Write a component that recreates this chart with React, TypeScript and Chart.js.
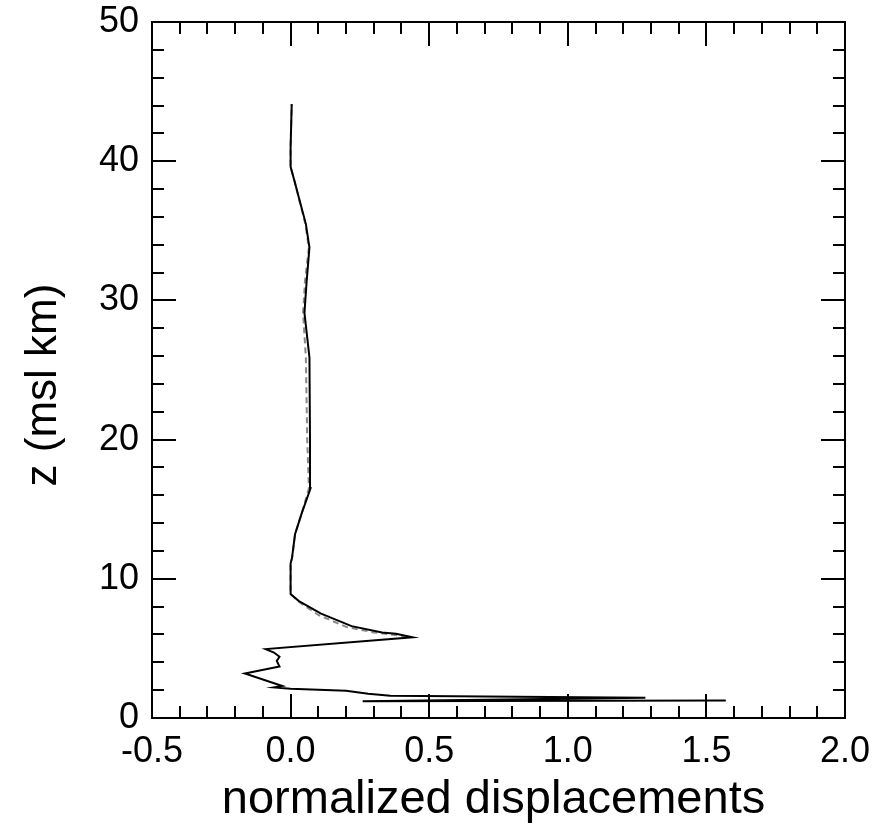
import React, { useEffect, useRef } from "react";
import { Chart, registerables } from "chart.js";

Chart.register(...registerables);

// Solid profile (black): normalized displacement vs altitude (km)
const solidX = [1.57, 0.26, 1.28, 0.36, 0.28, 0.2, 0.0, -0.06, -0.03, -0.165, -0.04, -0.05, -0.04, -0.06, -0.09, 0.44, 0.38, 0.33, 0.22, 0.11, 0.03, 0.0, 0.0, 0.005, 0.016, 0.04, 0.072, 0.07, 0.068, 0.05, 0.058, 0.068, 0.055, 0.035, 0.015, 0.0, 0.0, 0.004];
const solidZ = [1.25, 1.2, 1.45, 1.6, 1.75, 1.95, 2.1, 2.2, 2.3, 3.2, 3.7, 4.1, 4.4, 4.7, 4.95, 5.8, 6.05, 6.15, 6.6, 7.5, 8.4, 8.9, 11.1, 11.5, 13.2, 14.7, 16.5, 20.0, 25.9, 29.1, 31.4, 33.8, 35.5, 37.0, 38.5, 39.6, 41.0, 44.1];

// Dashed profile (grey)
const dashX = [0.42, 0.36, 0.3, 0.2, 0.1, 0.03, 0.0, 0.0, 0.006, 0.016, 0.04, 0.066, 0.06, 0.055, 0.045, 0.052, 0.066, 0.053, 0.034, 0.015, 0.0, 0.0, 0.004];
const dashZ = [5.85, 6.0, 6.15, 6.55, 7.4, 8.35, 8.9, 11.1, 11.5, 13.2, 14.7, 16.5, 20.0, 25.9, 29.1, 31.4, 33.8, 35.5, 37.0, 38.5, 39.6, 41.0, 44.1];

const xTicks = [-0.5, 0.0, 0.5, 1.0, 1.5, 2.0];
const yTicks = [0, 10, 20, 30, 40, 50];
const xTitle = "normalized displacements";
const yTitle = "z (msl km)";

const FONT = "'Liberation Sans', Arial, Helvetica, sans-serif";

const framePlugin = {
  id: "idlFrame",
  afterDraw(chart: any) {
    const { ctx, chartArea: a, scales } = chart;
    const xs = scales.x;
    const ys = scales.y;
    ctx.save();
    ctx.strokeStyle = "#000";
    ctx.lineWidth = 2;
    ctx.lineCap = "butt";
    ctx.strokeRect(a.left, a.top, a.right - a.left, a.bottom - a.top);
    const major = 24;
    const minor = 12;
    ctx.beginPath();
    for (let i = 0; i <= 25; i++) {
      const v = -0.5 + i * 0.1;
      const px = Math.round(xs.getPixelForValue(v));
      const len = i % 5 === 0 ? major : minor;
      ctx.moveTo(px, a.bottom);
      ctx.lineTo(px, a.bottom - len);
      ctx.moveTo(px, a.top);
      ctx.lineTo(px, a.top + len);
    }
    for (let i = 0; i <= 25; i++) {
      const v = i * 2;
      const py = Math.round(ys.getPixelForValue(v));
      const len = i % 5 === 0 ? major : minor;
      ctx.moveTo(a.left, py);
      ctx.lineTo(a.left + len, py);
      ctx.moveTo(a.right, py);
      ctx.lineTo(a.right - len, py);
    }
    ctx.stroke();

    ctx.fillStyle = "#000";
    ctx.font = `47px ${FONT}`;
    ctx.textAlign = "center";
    ctx.textBaseline = "middle";
    ctx.fillText(xTitle, (a.left + a.right) / 2 - 5, 800);
    ctx.save();
    ctx.translate(44, 385);
    ctx.rotate(-Math.PI / 2);
    ctx.font = `44px ${FONT}`;
    ctx.fillText(yTitle, 0, 0);
    ctx.restore();
    ctx.restore();
  },
};

export default function App() {
  const ref = useRef<HTMLCanvasElement | null>(null);
  useEffect(() => {
    if (!ref.current) return;
    const chart = new Chart(ref.current, {
      type: "line",
      data: {
        datasets: [
          {
            label: "dashed",
            data: dashX.map((x, i) => ({ x, y: dashZ[i] })),
            borderColor: "#8a8a8a",
            borderWidth: 2,
            borderDash: [6, 4],
            pointRadius: 0,
            tension: 0,
            fill: false,
            order: 2,
          },
          {
            label: "solid",
            data: solidX.map((x, i) => ({ x, y: solidZ[i] })),
            borderColor: "#000",
            borderWidth: 2,
            pointRadius: 0,
            tension: 0,
            fill: false,
            order: 1,
          },
        ],
      },
      options: {
        responsive: false,
        animation: false,
        devicePixelRatio: 1,
        layout: { padding: { left: 0, top: 22, right: 46, bottom: 0 } },
        plugins: { legend: { display: false }, tooltip: { enabled: false } },
        scales: {
          x: {
            type: "linear",
            min: -0.5,
            max: 2.0,
            grid: { display: false, drawTicks: false },
            border: { display: false },
            afterBuildTicks(scale: any) {
              scale.ticks = xTicks.map((v) => ({ value: v }));
            },
            afterFit(scale: any) {
              scale.height = 116;
              scale.paddingLeft = 0;
              scale.paddingRight = 0;
            },
            ticks: {
              color: "#000",
              padding: 12,
              maxRotation: 0,
              autoSkip: false,
              font: { family: FONT, size: 36 },
              callback: (v: any) => Number(v).toFixed(1),
            },
          },
          y: {
            type: "linear",
            min: 0,
            max: 50,
            grid: { display: false, drawTicks: false },
            border: { display: false },
            afterBuildTicks(scale: any) {
              scale.ticks = yTicks.map((v) => ({ value: v }));
            },
            afterFit(scale: any) {
              scale.width = 152;
              scale.paddingTop = 0;
              scale.paddingBottom = 0;
            },
            ticks: {
              color: "#000",
              padding: 13,
              autoSkip: false,
              font: { family: FONT, size: 36 },
              callback: (v: any) => String(v),
            },
          },
        },
      },
      plugins: [framePlugin],
    });
    return () => chart.destroy();
  }, []);
  return (
    <div style={{ position: "absolute", left: 0, top: 0, width: 891, height: 834, background: "#fff" }}>
      <canvas ref={ref} width={891} height={834} style={{ width: 891, height: 834, display: "block" }} />
    </div>
  );
}
